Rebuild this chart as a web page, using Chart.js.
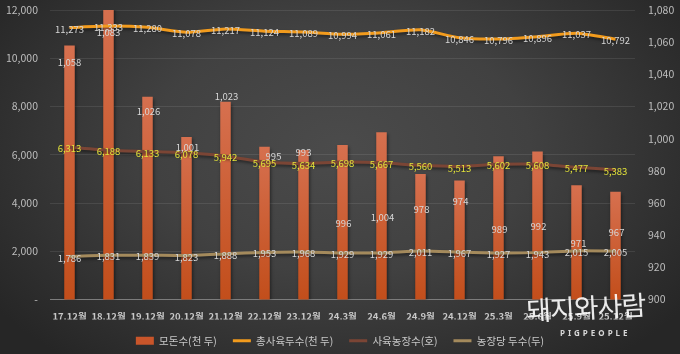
<!DOCTYPE html>
<html>
<head>
<meta charset="utf-8">
<script src="https://cdn.jsdelivr.net/npm/chart.js@4.4.0/dist/chart.umd.min.js"></script>
<style>
html,body{margin:0;padding:0;background:#262626;}
.wrap{position:relative;width:680px;height:354px;overflow:hidden;
  background:radial-gradient(ellipse 62% 78% at 50% 42%, #4b4b4b 0%, #414141 45%, #262626 100%);}
#myChart{position:absolute;left:0;top:0;}
.logo{position:absolute;left:526px;top:287px;font:400 27px "Noto Sans CJK KR";color:rgba(255,255,255,0.9);letter-spacing:-1px;transform:rotate(-3deg);}
.logo-en{position:absolute;left:560px;top:327px;font:700 8px "Noto Sans";color:#d8d8d8;letter-spacing:3px;}
</style>
</head>
<body>
<div class="wrap">
  <canvas id="myChart" width="680" height="354"></canvas>
  <div class="logo">돼지와사람</div>
  <div class="logo-en">PIGPEOPLE</div>
</div>
<script>
// data
let months=['17.12월','18.12월','19.12월','20.12월','21.12월','22.12월','23.12월','24.3월','24.6월','24.9월','24.12월','25.3월','25.6월','25.9월','25.12월']
let sows=[1058,1083,1026,1001,1023,995,993,996,1004,978,974,989,992,971,967]
let totalPigs=[11273,11333,11280,11078,11217,11124,11089,10994,11061,11182,10846,10796,10896,11037,10792]
let farms=[6313,6188,6133,6078,5942,5695,5634,5698,5667,5560,5513,5602,5608,5477,5383]
let perFarm=[1786,1831,1839,1823,1888,1953,1968,1929,1929,2011,1967,1927,1943,2015,2005]
let leftMin=0, leftMax=12000, leftStep=2000
let rightMin=900, rightMax=1080, rightStep=20

// label nudges for the bar values (px from bar top), like the hand placed ones
let barLabelDy=[17,27,15,10,-5,10,2,78,85,35,21,73,75,58,41]
let barLabelDx=[0,0,1,1,1,9,0,1,1,1,1,1,1,2,1]

const fam='"Noto Sans CJK KR", "Noto Sans", sans-serif';
Chart.defaults.font.family=fam;
const fmt=v=>v.toLocaleString('en-US');

const valueLabels={
    id:'valueLabels',
    afterDatasetsDraw(chart){
        const ctx=chart.ctx;
        ctx.save();
        ctx.font='9.5px '+fam;
        ctx.textAlign='center';
        ctx.textBaseline='middle';
        chart.data.datasets.forEach((ds,i)=>{
            chart.getDatasetMeta(i).data.forEach((el,j)=>{
                let x=el.x, y=el.y;
                if(ds.type==='bar'){ x+=barLabelDx[j]; y+=barLabelDy[j]; }
                else y+=1.5;
                ctx.fillStyle=ds.labelColor;
                ctx.fillText(fmt(ds.data[j]),x,y);
            });
        });
        ctx.restore();
    }
};

// soft excel-ish shadow under marks
const markShadow={
    id:'markShadow',
    beforeDatasetDraw(chart,args){
        const ctx=chart.ctx;
        ctx.save();
        ctx.shadowColor='rgba(0,0,0,0.45)';
        ctx.shadowBlur=3;
        ctx.shadowOffsetX=1;
        ctx.shadowOffsetY=2;
    },
    afterDatasetDraw(chart){
        chart.ctx.restore();
    }
};

function barFill(c){
    const chart=c.chart, area=chart.chartArea, s=chart.scales.y1;
    if(!area||!s||c.raw==null) return '#c9552a';
    const top=s.getPixelForValue(c.raw);
    const g=chart.ctx.createLinearGradient(0,top,0,area.bottom);
    g.addColorStop(0,'#d6704f');
    g.addColorStop(1,'#c24e1b');
    return g;
}

function fixSide(width){
    return function(s){
        s.width=width;
        s.paddingTop=6;
        s.paddingBottom=6;
    }
}

var ctx=document.getElementById('myChart').getContext('2d');
var myChart=new Chart(ctx,{
    data:{
        labels:months,
        datasets:[{
            type:'bar',
            label:'모돈수(천 두)',
            data:sows,
            yAxisID:'y1',
            backgroundColor:barFill,
            categoryPercentage:1,
            barPercentage:0.27,
            order:2,
            pointStyle:'rect',
            labelColor:'#d6d6d6'
        },
        {
            type:'line',
            label:'총사육두수(천 두)',
            data:totalPigs,
            yAxisID:'y',
            borderColor:'#f29b1d',
            borderWidth:3,
            pointRadius:0,
            tension:0.2,
            order:1,
            pointStyle:'line',
            labelColor:'#d6d6d6'
        },
        {
            type:'line',
            label:'사육농장수(호)',
            data:farms,
            yAxisID:'y',
            borderColor:'#7b4535',
            borderWidth:3,
            pointRadius:0,
            tension:0.2,
            order:1,
            pointStyle:'line',
            labelColor:'#e2e23a'
        },
        {
            type:'line',
            label:'농장당 두수(두)',
            data:perFarm,
            yAxisID:'y',
            borderColor:'#a48a5c',
            borderWidth:3,
            pointRadius:0,
            tension:0.2,
            order:1,
            pointStyle:'line',
            labelColor:'#d6d6d6'
        }]
    },
    options:{
        responsive:false,
        animation:false,
        layout:{padding:{top:10,left:0,right:0,bottom:-2}},
        plugins:{
            tooltip:{enabled:false},
            legend:{
                display:true,
                position:'bottom',
                labels:{
                    color:'#c8c8c8',
                    font:{size:10.5},
                    usePointStyle:true,
                    pointStyleWidth:18,
                    boxHeight:8,
                    padding:16,
                    sort:(a,b)=>a.datasetIndex-b.datasetIndex,
                    generateLabels(chart){
                        const items=Chart.defaults.plugins.legend.labels.generateLabels(chart);
                        items.forEach(it=>{ if(it.datasetIndex===0){ it.fillStyle='#c9552a'; it.lineWidth=0; } });
                        return items;
                    }
                }
            }
        },
        scales:{
            x:{
                grid:{display:false,drawTicks:false},
                border:{display:true,color:'#7c7c7c',width:1},
                ticks:{color:'#c8c8c8',padding:11,maxRotation:0,autoSkip:false,font:{size:9.5,weight:'bold'}},
                afterFit(s){ s.height=20; }
            },
            y:{
                position:'left',
                min:leftMin,
                max:leftMax,
                ticks:{stepSize:leftStep,color:'#bdbdbd',padding:12,font:{size:10.5},
                    callback:v=>v===0?'-':fmt(v)},
                grid:{color:'rgba(255,255,255,0.09)',drawTicks:false},
                border:{display:false},
                afterFit:fixSide(50)
            },
            y1:{
                position:'right',
                min:rightMin,
                max:rightMax,
                ticks:{stepSize:rightStep,color:'#bdbdbd',padding:13,font:{size:10.5},callback:v=>fmt(v)},
                grid:{display:false,drawTicks:false},
                border:{display:false},
                afterFit:fixSide(45)
            }
        }
    },
    plugins:[markShadow,valueLabels]
});
</script>
</body>
</html>
